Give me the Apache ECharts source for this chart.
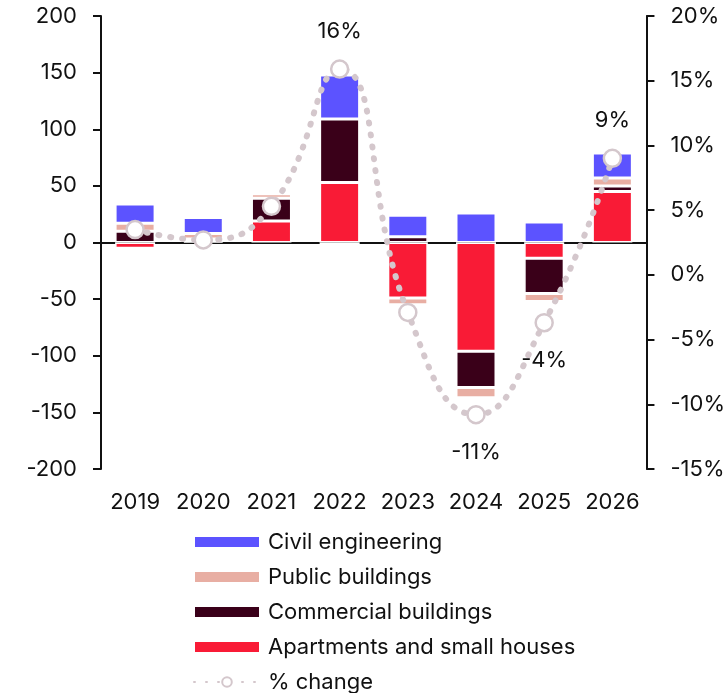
<!DOCTYPE html>
<html>
<head>
<meta charset="utf-8">
<script src="https://cdn.jsdelivr.net/npm/echarts@6/dist/echarts.min.js"></script>
<style>
  html, body { margin: 0; padding: 0; background: #fff; }
  #chart { width: 728px; height: 693px; }
</style>
</head>
<body>
<div id="chart"></div>
<script>
// data
const years = ['2019', '2020', '2021', '2022', '2023', '2024', '2025', '2026'];
const civilEngineering = [17, 14, 2, 39, 19, 26, 18, 22];
const publicBuildings = [7, 5, 4, -2, -6, -9, -7, 7];
const commercialBuildings = [10, 2, 20, 56, 5, -32, -31, 5];
const apartments = [-5, 1, 19, 53, -49, -96, -14, 45];
const pctChange = [3.5, 2.7, 5.3, 15.9, -2.9, -10.8, -3.7, 9.0];

const leftTicks = { min: -200, max: 200, interval: 50 };
const rightTicks = { min: -15, max: 20, interval: 5 };

// which points get a text label, and where it sits
const pctLabelPos = { '2022': 'top', '2024': 'bottom', '2025': 'bottom', '2026': 'top' };

const font = 'Inter, "Noto Sans", sans-serif';
const ink = '#111';
const dotColor = '#d4c7cc';

let myChart = echarts.init(document.getElementById('chart'));

const barSeries = (name, data, color) => ({
  name: name,
  type: 'bar',
  stack: 'total',
  barWidth: 40,
  data: data,
  itemStyle: { color: color, borderColor: '#fff', borderWidth: 1.5 }
});

const pctData = pctChange.map((v, i) => {
  const pos = pctLabelPos[years[i]];
  if (!pos) return v;
  return { value: v, label: { show: true, position: pos, distance: 17 } };
});

let option = {
  animation: false,
  textStyle: { fontFamily: font },
  grid: { left: 101, right: 81, top: 16, bottom: 224 },
  legend: {
    orient: 'vertical',
    left: 193,
    top: 531,
    padding: 0,
    itemWidth: 66,
    itemHeight: 12,
    itemGap: 13,
    textStyle: { fontSize: 22, color: ink, fontFamily: font, padding: [0, 0, 0, 3] },
    data: [
      { name: 'Civil engineering', icon: 'rect' },
      { name: 'Public buildings', icon: 'rect' },
      { name: 'Commercial buildings', icon: 'rect' },
      { name: 'Apartments and small houses', icon: 'rect' },
      { name: '% change' }
    ]
  },
  xAxis: [{
    type: 'category',
    data: years,
    position: 'bottom',
    axisLine: { show: false, onZero: false },
    axisTick: { show: false },
    axisLabel: { fontSize: 22, color: ink, margin: 22, interval: 0 }
  }, {
    type: 'category',
    data: years,
    position: 'top',
    axisLine: { onZero: true, lineStyle: { color: ink, width: 2 } },
    axisTick: { inside: true, length: 7, interval: 0, lineStyle: { color: ink, width: 2 } },
    axisLabel: { show: false }
  }],
  yAxis: [{
    type: 'value',
    min: leftTicks.min,
    max: leftTicks.max,
    interval: leftTicks.interval,
    axisLine: { show: true, lineStyle: { color: ink, width: 2 } },
    axisTick: { show: true, length: 8, lineStyle: { color: ink, width: 2 } },
    axisLabel: { fontSize: 22, color: ink, margin: 24 },
    splitLine: { show: false }
  }, {
    type: 'value',
    position: 'right',
    min: rightTicks.min,
    max: rightTicks.max,
    interval: rightTicks.interval,
    axisLine: { show: true, lineStyle: { color: ink, width: 2 } },
    axisTick: { show: true, length: 8, lineStyle: { color: ink, width: 2 } },
    axisLabel: { fontSize: 22, color: ink, margin: 24, formatter: '{value}%' },
    splitLine: { show: false }
  }],
  series: [
    barSeries('Apartments and small houses', apartments, '#f91b36'),
    barSeries('Commercial buildings', commercialBuildings, '#3a0019'),
    barSeries('Public buildings', publicBuildings, '#e8aea3'),
    barSeries('Civil engineering', civilEngineering, '#5c53ff'),
    {
      name: '% change',
      type: 'line',
      yAxisIndex: 1,
      smooth: 0.5,
      symbol: 'circle',
      symbolSize: 17,
      z: 5,
      data: pctData,
      lineStyle: { color: dotColor, width: 6, type: [1, 11], cap: 'round' },
      itemStyle: { color: '#fff', borderColor: dotColor, borderWidth: 2.5 },
      label: {
        show: false,
        fontSize: 22,
        color: ink,
        fontFamily: font,
        formatter: (p) => Math.round(p.value) + '%'
      }
    }
  ]
};

myChart.setOption(option);
</script>
</body>
</html>
